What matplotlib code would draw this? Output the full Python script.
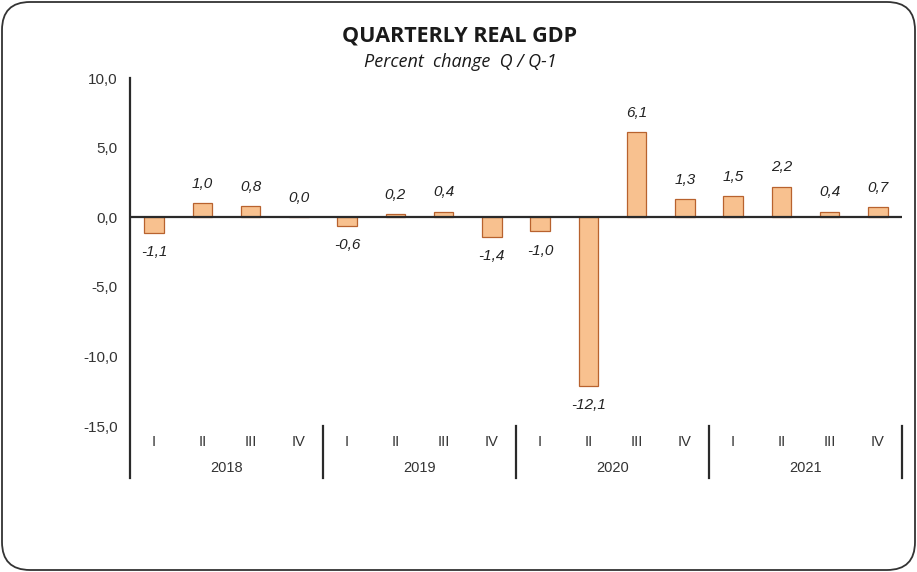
import matplotlib
matplotlib.use("Agg")
import matplotlib.pyplot as plt
from matplotlib.patches import FancyBboxPatch
from matplotlib.ticker import FuncFormatter

# data
years = ["2018", "2019", "2020", "2021"]
quarters = ["I", "II", "III", "IV"]
gdp_change = [-1.1, 1.0, 0.8, 0.0,
              -0.6, 0.2, 0.4, -1.4,
              -1.0, -12.1, 6.1, 1.3,
              1.5, 2.2, 0.4, 0.7]

bar_face = "#F8C18F"
bar_edge = "#B8622E"
txt = "#222222"

plt.rcParams['font.family'] = ['Liberation Sans', 'DejaVu Sans']

fig = plt.figure(figsize=(9.17, 5.72), dpi=100)
ax = fig.add_axes([130 / 917, 1 - 426 / 572, 772 / 917, 348 / 572])

x = list(range(len(gdp_change)))
ax.bar(x, gdp_change, width=0.4, color=bar_face, edgecolor=bar_edge, linewidth=0.9, zorder=2)

# value labels
for xi, v in zip(x, gdp_change):
    off = 14 if v >= 0 else -14
    ax.annotate(f"{v:.1f}".replace(".", ","), (xi, v), xytext=(0, off),
                textcoords="offset points", ha="center", va="center",
                fontsize=11, style="italic", color=txt)

ax.set_xlim(-0.5, len(gdp_change) - 0.5)
ax.set_ylim(-15, 10)
ax.set_yticks([-15, -10, -5, 0, 5, 10])
ax.yaxis.set_major_formatter(FuncFormatter(lambda v, p: f"{v:.1f}".replace(".", ",")))
ax.tick_params(axis="y", length=0, pad=9, labelsize=11, labelcolor="#333333")
ax.set_xticks([])

for s in ["top", "right", "bottom", "left"]:
    ax.spines[s].set_visible(False)

# zero line
ax.axhline(0, color="#2a2a2a", linewidth=1.6, zorder=3)

# category axis: quarters, years, separators
trans = ax.get_xaxis_transform()
for xi in x:
    ax.text(xi, -0.046, quarters[xi % 4], transform=trans, ha="center", va="center",
            fontsize=10.5, color="#333333")
for i, yr in enumerate(years):
    ax.text(i * 4 + 1.5, -0.121, yr, transform=trans, ha="center", va="center",
            fontsize=10.5, color="#333333")
ax.plot([-0.5, -0.5], [-0.149, 1.0], transform=trans, color="#2a2a2a", lw=1.6, clip_on=False)
for i in range(1, len(years) + 1):
    sx = i * 4 - 0.5
    ax.plot([sx, sx], [-0.149, 0.0], transform=trans, color="#2a2a2a", lw=1.6, clip_on=False)

# titles
fig.text(460 / 917, 1 - 36 / 572, "QUARTERLY REAL GDP", ha="center", va="center",
         fontsize=15.5, fontweight="bold", family=["Open Sans", "DejaVu Sans"], color="#1a1a1a")
fig.text(460 / 917, 1 - 62 / 572, "Percent  change  Q / Q-1", ha="center", va="center",
         fontsize=13, style="italic", family=["Open Sans", "DejaVu Sans"], color="#1a1a1a")

# rounded frame
frame = FancyBboxPatch((0.02, 0.02), 9.13, 5.68, boxstyle="round,pad=0,rounding_size=0.28",
                       transform=fig.dpi_scale_trans, facecolor="none", edgecolor="#333333",
                       linewidth=1.3)
fig.patches.append(frame)

fig.savefig("out.png", dpi=100)
